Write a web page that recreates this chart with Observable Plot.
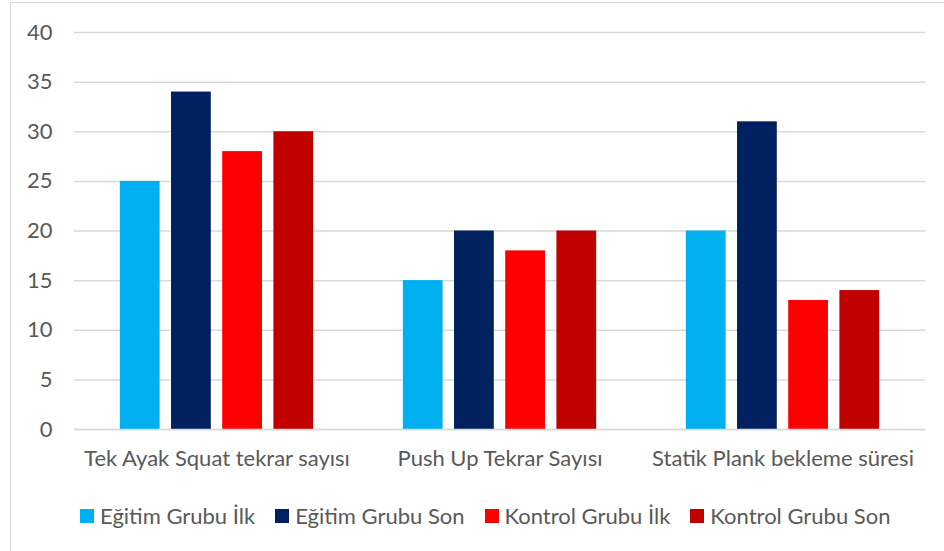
<!DOCTYPE html>
<html>
<head>
<meta charset="utf-8">
<script src="https://cdn.jsdelivr.net/npm/d3@7"></script>
<script src="https://cdn.jsdelivr.net/npm/@observablehq/plot@0.6"></script>
<style>
  body { margin: 0; background: #fff; font-family: Lato, "Open Sans", sans-serif; }
  #frame { position: absolute; left: 10px; top: 2px; width: 980px; height: 600px;
           border: 1.5px solid #d9d9d9; box-sizing: border-box; }
  #chart { position: absolute; left: 0; top: 0; }
  #legend { position: absolute; left: 80px; top: 502px; display: flex; gap: 20px;
            font-size: 22px; color: #595959; white-space: nowrap; }
  #legend .item { display: flex; align-items: center; gap: 6px; }
  #legend .sw { width: 14px; height: 14px; display: inline-block; }
</style>
</head>
<body>
<div id="frame"></div>
<div id="chart"></div>
<div id="legend"></div>
<script>
// Test categories and groups
const measures = ["Tek Ayak Squat tekrar sayısı", "Push Up Tekrar Sayısı", "Statik Plank bekleme süresi"];
const series = ["Eğitim Grubu İlk", "Eğitim Grubu Son", "Kontrol Grubu İlk", "Kontrol Grubu Son"];

// Values per group, in the order of measures
const egitimIlk = [25, 15, 20];
const egitimSon = [34, 20, 31];
const kontrolIlk = [28, 18, 13];
const kontrolSon = [30, 20, 14];

const colors = ["#00b0f0", "#002060", "#ff0000", "#c00000"];
const yTicks = [0, 5, 10, 15, 20, 25, 30, 35, 40];

const seriesValues = [egitimIlk, egitimSon, kontrolIlk, kontrolSon];
const rows = measures.flatMap((m, i) =>
  series.map((s, j) => ({measure: m, series: s, value: seriesValues[j][i]})));

const width = 944, height = 480;
const marginLeft = 74, marginRight = 19, marginTop = 32, marginBottom = 51;
const groupWidth = (width - marginLeft - marginRight) / measures.length;

// Position of each series' bar inside its measure band
const inner = d3.scaleBand().domain(series).range([0, groupWidth])
  .paddingInner(0.21).paddingOuter(0.876);

const plot = Plot.plot({
  width, height, marginLeft, marginRight, marginTop, marginBottom,
  style: {fontFamily: "Lato, 'Open Sans', sans-serif", fontSize: "22px", color: "#595959", background: "transparent"},
  x: {type: "band", domain: measures, padding: 0, tickSize: 0, tickPadding: 21, label: null},
  y: {domain: [0, 40], ticks: yTicks, tickSize: 0, tickPadding: 22, label: null},
  color: {domain: series, range: colors},
  marks: [
    Plot.ruleY(yTicks, {stroke: "#d9d9d9", strokeWidth: 1.5}),
    ...series.map(s => Plot.barY(rows.filter(d => d.series === s), {
      x: "measure", y: "value", fill: "series",
      insetLeft: inner(s),
      insetRight: groupWidth - inner(s) - inner.bandwidth()
    })),
    Plot.ruleY([0], {stroke: "#d9d9d9", strokeWidth: 1.5})
  ]
});
document.getElementById("chart").appendChild(plot);

// Legend built from the plot's color scale
const color = plot.scale("color");
const legend = document.getElementById("legend");
color.domain.forEach((name, i) => {
  const item = document.createElement("div");
  item.className = "item";
  const sw = document.createElement("span");
  sw.className = "sw";
  sw.style.background = color.range[i];
  const label = document.createElement("span");
  label.textContent = name;
  item.append(sw, label);
  legend.appendChild(item);
});
</script>
</body>
</html>
